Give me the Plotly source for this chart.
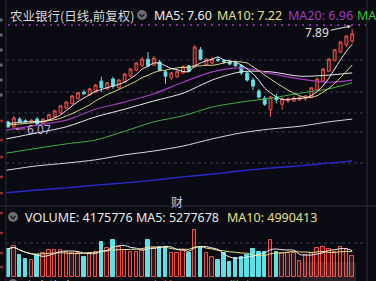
import numpy as np
import pandas as pd
import plotly.graph_objects as go

W, H = 376, 281

# ---------------- data ----------------
opens = [6.20, 6.11, 6.25, 6.22, 6.20, 6.25, 6.16, 6.23, 6.29, 6.36,
         6.45, 6.53, 6.62, 6.74, 6.69, 6.74, 6.94, 6.80, 6.98, 6.82,
         6.93, 7.03, 7.14, 7.22, 7.34, 7.23, 7.29, 7.11, 7.00, 7.02,
         7.09, 7.22, 7.20, 7.51, 7.23, 7.27, 7.34, 7.31, 7.29, 7.27,
         7.22, 7.09, 6.96, 6.76, 6.63, 6.42, 6.65, 6.52, 6.58, 6.58,
         6.60, 6.62, 6.65, 6.78, 6.94, 7.12, 7.32, 7.47, 7.60, 7.67]
closes = [6.11, 6.27, 6.20, 6.20, 6.23, 6.16, 6.25, 6.33, 6.40, 6.49,
          6.56, 6.67, 6.73, 6.71, 6.80, 6.87, 6.82, 6.91, 6.85, 6.96,
          7.07, 7.16, 7.27, 7.34, 7.22, 7.36, 7.14, 7.03, 7.09, 7.12,
          7.20, 7.12, 7.56, 7.34, 7.34, 7.34, 7.32, 7.29, 7.25, 7.22,
          7.09, 6.96, 6.85, 6.65, 6.52, 6.65, 6.60, 6.62, 6.62, 6.63,
          6.65, 6.67, 6.82, 6.98, 7.16, 7.34, 7.51, 7.65, 7.76, 7.80]
highs = [6.22, 6.31, 6.29, 6.25, 6.25, 6.29, 6.27, 6.34, 6.42, 6.51,
         6.58, 6.69, 6.74, 6.78, 6.82, 6.89, 7.02, 6.93, 7.02, 6.98,
         7.09, 7.18, 7.29, 7.38, 7.47, 7.40, 7.33, 7.14, 7.11, 7.14,
         7.23, 7.23, 7.60, 7.56, 7.36, 7.38, 7.38, 7.34, 7.32, 7.31,
         7.25, 7.12, 7.00, 6.80, 6.67, 6.67, 6.71, 6.65, 6.65, 6.67,
         6.67, 6.69, 6.83, 7.00, 7.18, 7.36, 7.52, 7.67, 7.78, 7.89]
lows = [6.09, 6.07, 6.18, 6.18, 6.18, 6.13, 6.14, 6.22, 6.27, 6.34,
        6.43, 6.51, 6.60, 6.69, 6.67, 6.73, 6.74, 6.78, 6.80, 6.80,
        6.91, 7.02, 7.12, 7.20, 7.20, 7.22, 7.12, 6.89, 6.96, 7.00,
        7.07, 7.11, 7.18, 7.32, 7.22, 7.25, 7.29, 7.25, 7.23, 7.20,
        7.05, 6.93, 6.78, 6.62, 6.49, 6.29, 6.54, 6.42, 6.54, 6.56,
        6.58, 6.58, 6.63, 6.76, 6.93, 7.11, 7.29, 7.45, 7.56, 7.63]
volumes = [5570000, 6160000, 4370000, 3580000, 3380000, 4370000, 4770000, 5370000, 5370000, 5370000,
           4970000, 4770000, 4770000, 3980000, 4770000, 4970000, 6960000, 5770000, 7360000, 5960000,
           5370000, 4970000, 4970000, 5370000, 7360000, 5770000, 5960000, 5960000, 4770000, 4770000,
           5370000, 4770000, 9340000, 5960000, 4770000, 3980000, 3380000, 4770000, 2980000, 3780000,
           3980000, 4370000, 5570000, 4970000, 4970000, 7360000, 4970000, 4770000, 4770000, 4770000,
           3180000, 4370000, 4770000, 5770000, 5960000, 5600000, 4970000, 5960000, 5570000, 4175776]

# moving-average values before enough history is visible
ma5_head = [6.17, 6.18, 6.19, 6.20]
ma10_head = [6.14, 6.15, 6.16, 6.17, 6.18, 6.19, 6.20, 6.22, 6.24]

# longer moving averages, read at sample positions
ma_x = [-0.34, 5, 10, 15, 20, 25, 30, 35, 40, 45, 50, 55, 59]
ma20 = [6.05, 6.14, 6.23, 6.43, 6.56, 6.71, 6.92, 7.11, 7.18, 7.08, 6.98, 6.92, 6.96]
ma30 = [5.89, 6.00, 6.11, 6.29, 6.43, 6.58, 6.72, 6.96, 7.11, 7.11, 7.03, 7.05, 7.09]
ma60 = [5.63, 5.72, 5.80, 5.87, 6.03, 6.20, 6.31, 6.47, 6.56, 6.63, 6.72, 6.80, 6.91]
ma120 = [5.32, 5.40, 5.45, 5.51, 5.60, 5.67, 5.76, 5.89, 6.00, 6.07, 6.12, 6.20, 6.25]
ma250 = [4.91, 4.96, 5.00, 5.05, 5.09, 5.14, 5.20, 5.25, 5.31, 5.36, 5.40, 5.45, 5.49]

title_text = "农业银行(日线,前复权)"
hdr_ma = [("MA5: 7.60", "#eeeeee"), ("MA10: 7.22", "#e6e08a"),
          ("MA20: 6.96", "#a23cbc"), ("MA", "#3cc040")]
vol_hdr = [("VOLUME: 4175776 MA5: 5277678", "#e8e8e8"), ("MA10: 4990413", "#e6e08a")]
low_label, high_label = "6.07", "7.89"

# ---------------- helpers ----------------
BG = "#0a0a12"
RED = "#e8544c"
CYAN = "#5ee0e6"
FONT = "Noto Sans, Noto Sans CJK SC, sans-serif"


def px(x):
    return x / W


def py(y):
    return 1 - y / H


idx = list(range(len(closes)))
cs = pd.Series(closes)
ma5 = cs.rolling(5).mean().tolist()
ma5[:4] = ma5_head
ma10 = cs.rolling(10).mean().tolist()
ma10[:9] = ma10_head
vs = pd.Series(volumes)
vma5 = vs.rolling(5, min_periods=1).mean()
vma10 = vs.rolling(10, min_periods=1).mean()

up = [c >= o for o, c in zip(opens, closes)]
vfill = ["rgba(110,25,25,0.55)" if u else CYAN for u in up]
vline = [RED if u else CYAN for u in up]

fig = go.Figure()

# long MAs (drawn below candles)
for vals, col, w in [(ma250, "#2a2ad0", 1.4), (ma120, "#d8d8d8", 1),
                     (ma60, "#3cb043", 1), (ma30, "#e8e8e8", 1), (ma20, "#a23cbc", 1.2)]:
    fig.add_trace(go.Scatter(x=ma_x, y=vals, mode="lines",
                             line=dict(color=col, width=w, shape="spline", smoothing=0.8),
                             xaxis="x", yaxis="y", hoverinfo="skip"))

fig.add_trace(go.Candlestick(
    x=idx, open=opens, high=highs, low=lows, close=closes,
    increasing=dict(line=dict(color=RED, width=1), fillcolor="rgba(80,18,18,1)"),
    decreasing=dict(line=dict(color=CYAN, width=1), fillcolor=CYAN),
    whiskerwidth=0, xaxis="x", yaxis="y"))

fig.add_trace(go.Scatter(x=idx, y=ma10, mode="lines",
                         line=dict(color="#e6e08a", width=1, shape="spline", smoothing=0.6),
                         xaxis="x", yaxis="y"))
fig.add_trace(go.Scatter(x=idx, y=ma5, mode="lines",
                         line=dict(color="#f4f4f4", width=1, shape="spline", smoothing=0.6),
                         xaxis="x", yaxis="y"))

# volume
fig.add_trace(go.Bar(x=idx, y=volumes, width=0.6,
                     marker=dict(color=vfill, line=dict(color=vline, width=1)),
                     xaxis="x2", yaxis="y2"))
fig.add_trace(go.Scatter(x=idx, y=vma10, mode="lines",
                         line=dict(color="#e6e08a", width=1, shape="spline"),
                         xaxis="x2", yaxis="y2"))
fig.add_trace(go.Scatter(x=idx, y=vma5, mode="lines",
                         line=dict(color="#f0f0f0", width=1, shape="spline"),
                         xaxis="x2", yaxis="y2"))

# ---------------- axes ----------------
xr = [-0.343, 61.54]
xdom = [px(6), px(367)]
p_top = 6.07 + (129 - 22) / 55
p_bot = 6.07 + (129 - 205) / 55
vtop = (277 - 225) / 5.03 * 1e6

axis_common = dict(showgrid=False, zeroline=False, showticklabels=False, showline=False, ticks="")
fig.update_layout(
    width=W, height=H, margin=dict(l=0, r=0, t=0, b=0),
    paper_bgcolor=BG, plot_bgcolor=BG, showlegend=False,
    font=dict(family=FONT, color="#e0e0e0", size=12),
    xaxis=dict(domain=xdom, range=xr, rangeslider=dict(visible=False), anchor="y", **axis_common),
    yaxis=dict(domain=[py(205), py(22)], range=[p_bot, p_top], anchor="x", **axis_common),
    xaxis2=dict(domain=xdom, range=xr, anchor="y2", **axis_common),
    yaxis2=dict(domain=[py(277), py(225)], range=[0, vtop], anchor="x2", **axis_common),
    bargap=0,
)

shapes = []
# frame lines
for x in (6, 367):
    shapes.append(dict(type="line", xref="paper", yref="paper", x0=px(x), x1=px(x), y0=0, y1=1,
                       line=dict(color="#2c2c38", width=1)))
shapes.append(dict(type="line", xref="paper", yref="paper", x0=0, x1=1, y0=py(206), y1=py(206),
                   line=dict(color="#2c2c38", width=1)))
# dotted grid
for y in (60, 92, 113, 132, 163, 243):
    shapes.append(dict(type="line", xref="paper", yref="paper", x0=px(6), x1=px(367), y0=py(y), y1=py(y),
                       line=dict(color="#3a3a4a", width=1, dash="dot"), layer="below"))
shapes.append(dict(type="line", xref="paper", yref="paper", x0=px(8), x1=px(366), y0=py(25), y1=py(25),
                   line=dict(color="#8a2aa0", width=2, dash="2px,5px"), layer="below"))
# icons
for (cx, cy) in ((142, 15), (13, 217), (13, 284)):
    shapes.append(dict(type="circle", xref="paper", yref="paper", x0=px(cx - 5), x1=px(cx + 5),
                       y0=py(cy + 5), y1=py(cy - 5), fillcolor="#6c6c70", line=dict(width=0)))
    shapes.append(dict(type="path", xref="paper", yref="paper",
                       path=f"M {px(cx-2.5)} {py(cy-1)} L {px(cx)} {py(cy+1.8)} L {px(cx+2.5)} {py(cy-1)}",
                       line=dict(color="#1a1a1a", width=1.3)))
# left edge axis remnants
for y in (121, 140, 157, 177, 193, 213, 233, 253, 267):
    shapes.append(dict(type="circle", xref="paper", yref="paper", x0=px(0), x1=px(3),
                       y0=py(y + 1.5), y1=py(y - 1.5), fillcolor="#a03030", line=dict(width=0)))
for y in (20, 35, 50, 65, 80, 95):
    shapes.append(dict(type="rect", xref="paper", yref="paper", x0=px(0), x1=px(2.5),
                       y0=py(y + 1.5), y1=py(y - 1.5), fillcolor="#6a6a6a", line=dict(width=0)))
# watermark smudge
shapes.append(dict(type="rect", xref="paper", yref="paper", x0=px(300), x1=px(356), y0=py(281), y1=py(262),
                   fillcolor="rgba(200,120,120,0.18)", line=dict(width=0)))
fig.update_layout(shapes=shapes)

ann = []
ann.append(dict(xref="paper", yref="paper", x=px(8), y=py(15), text=title_text, showarrow=False,
                xanchor="left", yanchor="middle", font=dict(size=12.5, color="#d8d8d8",
                                                             family="Noto Sans CJK SC, sans-serif")))
xpos = [152, 215, 286, 355]
for (t, c), x in zip(hdr_ma, xpos):
    ann.append(dict(xref="paper", yref="paper", x=px(x), y=py(15), text=t, showarrow=False,
                    xanchor="left", yanchor="middle", font=dict(size=12.5, color=c)))
for (t, c), x in zip(vol_hdr, (23, 225)):
    ann.append(dict(xref="paper", yref="paper", x=px(x), y=py(217), text=t, showarrow=False,
                    xanchor="left", yanchor="middle", font=dict(size=12.5, color=c)))
ann.append(dict(xref="paper", yref="paper", x=px(177), y=py(201), text="财", showarrow=False,
                xanchor="center", yanchor="middle",
                font=dict(size=12, color="#b8ccff", family="Noto Sans CJK SC")))
# bottom clipped indicator line
for t, c, x in (("主力资金 DDX: 0.00", "#d0d0d0", 22), ("大单: 0.00", RED, 147), ("散户: 0.00", "#3cc040", 227)):
    ann.append(dict(xref="paper", yref="paper", x=px(x), y=py(285), text=t, showarrow=False,
                    xanchor="left", yanchor="middle",
                    font=dict(size=12.5, color=c, family="Noto Sans CJK SC, Noto Sans")))
# high / low markers
ann.append(dict(xref="x", yref="y", x=58.8, y=6.07 + (129 - 26) / 55, text=high_label,
                showarrow=True, ax=-34, ay=7, arrowhead=2, arrowsize=0.7, arrowwidth=1,
                arrowcolor="#e0e0e0", font=dict(size=12, color="#e0e0e0"), standoff=0))
ann.append(dict(xref="x", yref="y", x=1.2, y=6.07, text=low_label,
                showarrow=True, ax=24, ay=0, arrowhead=2, arrowsize=0.7, arrowwidth=1,
                arrowcolor="#d070c0", font=dict(size=12, color="#c4b0d8"), standoff=0))
fig.update_layout(annotations=ann)

fig.write_html("out.html", config=dict(displayModeBar=False))
